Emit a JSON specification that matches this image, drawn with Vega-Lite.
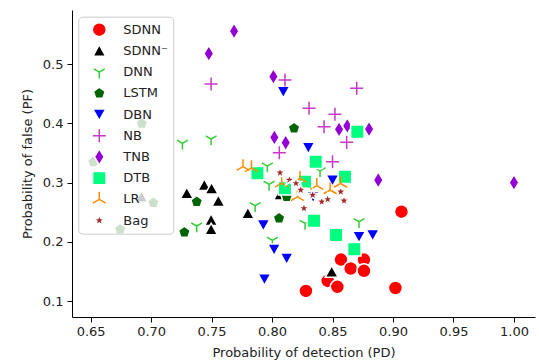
{
  "$schema": "https://vega.github.io/schema/vega-lite/v6.json",
  "autosize": {"type": "none"},
  "padding": {"left": 72, "top": 10, "right": 4, "bottom": 45},
  "width": 463,
  "height": 307,
  "data": {"values": [
    {"model": "SDNN", "pd": 0.828, "pf": 0.117},
    {"model": "SDNN", "pd": 0.846, "pf": 0.134},
    {"model": "SDNN", "pd": 0.854, "pf": 0.124},
    {"model": "SDNN", "pd": 0.857, "pf": 0.170},
    {"model": "SDNN", "pd": 0.865, "pf": 0.155},
    {"model": "SDNN", "pd": 0.876, "pf": 0.170},
    {"model": "SDNN", "pd": 0.876, "pf": 0.151},
    {"model": "SDNN", "pd": 0.907, "pf": 0.251},
    {"model": "SDNN", "pd": 0.902, "pf": 0.122},
    {"model": "SDNN⁻", "pd": 0.692, "pf": 0.276},
    {"model": "SDNN⁻", "pd": 0.7295, "pf": 0.282},
    {"model": "SDNN⁻", "pd": 0.744, "pf": 0.296},
    {"model": "SDNN⁻", "pd": 0.750, "pf": 0.290},
    {"model": "SDNN⁻", "pd": 0.7556, "pf": 0.269},
    {"model": "SDNN⁻", "pd": 0.7496, "pf": 0.237},
    {"model": "SDNN⁻", "pd": 0.7496, "pf": 0.221},
    {"model": "SDNN⁻", "pd": 0.780, "pf": 0.248},
    {"model": "SDNN⁻", "pd": 0.8066, "pf": 0.280},
    {"model": "SDNN⁻", "pd": 0.8493, "pf": 0.1495},
    {"model": "DNN", "pd": 0.7259, "pf": 0.3664},
    {"model": "DNN", "pd": 0.7496, "pf": 0.3736},
    {"model": "DNN", "pd": 0.7961, "pf": 0.328},
    {"model": "DNN", "pd": 0.7975, "pf": 0.297},
    {"model": "DNN", "pd": 0.786, "pf": 0.261},
    {"model": "DNN", "pd": 0.7377, "pf": 0.2267},
    {"model": "DNN", "pd": 0.8003, "pf": 0.2025},
    {"model": "DNN", "pd": 0.8273, "pf": 0.231},
    {"model": "DNN", "pd": 0.8719, "pf": 0.234},
    {"model": "DNN", "pd": 0.8397, "pf": 0.32},
    {"model": "LSTM", "pd": 0.6523, "pf": 0.335},
    {"model": "LSTM", "pd": 0.6923, "pf": 0.400},
    {"model": "LSTM", "pd": 0.7019, "pf": 0.266},
    {"model": "LSTM", "pd": 0.6744, "pf": 0.221},
    {"model": "LSTM", "pd": 0.7377, "pf": 0.2677},
    {"model": "LSTM", "pd": 0.7275, "pf": 0.216},
    {"model": "LSTM", "pd": 0.8058, "pf": 0.2397},
    {"model": "LSTM", "pd": 0.8121, "pf": 0.276},
    {"model": "LSTM", "pd": 0.8182, "pf": 0.3917},
    {"model": "DBN", "pd": 0.8093, "pf": 0.4535},
    {"model": "DBN", "pd": 0.830, "pf": 0.359},
    {"model": "DBN", "pd": 0.850, "pf": 0.304},
    {"model": "DBN", "pd": 0.7928, "pf": 0.2284},
    {"model": "DBN", "pd": 0.8017, "pf": 0.1873},
    {"model": "DBN", "pd": 0.8121, "pf": 0.172},
    {"model": "DBN", "pd": 0.7937, "pf": 0.137},
    {"model": "DBN", "pd": 0.8719, "pf": 0.2086},
    {"model": "DBN", "pd": 0.8832, "pf": 0.2115},
    {"model": "DBN", "pd": 0.834, "pf": 0.276},
    {"model": "NB", "pd": 0.7496, "pf": 0.4666},
    {"model": "NB", "pd": 0.8107, "pf": 0.4733},
    {"model": "NB", "pd": 0.8306, "pf": 0.4255},
    {"model": "NB", "pd": 0.852, "pf": 0.4154},
    {"model": "NB", "pd": 0.843, "pf": 0.3944},
    {"model": "NB", "pd": 0.8617, "pf": 0.368},
    {"model": "NB", "pd": 0.806, "pf": 0.3505},
    {"model": "NB", "pd": 0.850, "pf": 0.3353},
    {"model": "NB", "pd": 0.870, "pf": 0.4593},
    {"model": "TNB", "pd": 0.7686, "pf": 0.556},
    {"model": "TNB", "pd": 0.7477, "pf": 0.518},
    {"model": "TNB", "pd": 0.8011, "pf": 0.479},
    {"model": "TNB", "pd": 0.8019, "pf": 0.3765},
    {"model": "TNB", "pd": 0.8113, "pf": 0.3674},
    {"model": "TNB", "pd": 0.8554, "pf": 0.390},
    {"model": "TNB", "pd": 0.8622, "pf": 0.396},
    {"model": "TNB", "pd": 0.8802, "pf": 0.3905},
    {"model": "TNB", "pd": 0.8878, "pf": 0.3044},
    {"model": "TNB", "pd": 1.0, "pf": 0.300},
    {"model": "DTB", "pd": 0.8361, "pf": 0.3353},
    {"model": "DTB", "pd": 0.7879, "pf": 0.3157},
    {"model": "DTB", "pd": 0.8107, "pf": 0.2904},
    {"model": "DTB", "pd": 0.8273, "pf": 0.3015},
    {"model": "DTB", "pd": 0.8603, "pf": 0.310},
    {"model": "DTB", "pd": 0.8347, "pf": 0.2356},
    {"model": "DTB", "pd": 0.8529, "pf": 0.2115},
    {"model": "DTB", "pd": 0.868, "pf": 0.1873},
    {"model": "DTB", "pd": 0.8705, "pf": 0.386},
    {"model": "LR", "pd": 0.776, "pf": 0.327},
    {"model": "LR", "pd": 0.783, "pf": 0.325},
    {"model": "LR", "pd": 0.808, "pf": 0.299},
    {"model": "LR", "pd": 0.8231, "pf": 0.307},
    {"model": "LR", "pd": 0.821, "pf": 0.276},
    {"model": "LR", "pd": 0.837, "pf": 0.295},
    {"model": "LR", "pd": 0.848, "pf": 0.2875},
    {"model": "LR", "pd": 0.8566, "pf": 0.2985},
    {"model": "Bag", "pd": 0.8066, "pf": 0.3167},
    {"model": "Bag", "pd": 0.8143, "pf": 0.3044},
    {"model": "Bag", "pd": 0.8198, "pf": 0.2988},
    {"model": "Bag", "pd": 0.8237, "pf": 0.2875},
    {"model": "Bag", "pd": 0.8264, "pf": 0.2566},
    {"model": "Bag", "pd": 0.8336, "pf": 0.279},
    {"model": "Bag", "pd": 0.8411, "pf": 0.2677},
    {"model": "Bag", "pd": 0.846, "pf": 0.2718},
    {"model": "Bag", "pd": 0.8568, "pf": 0.2846},
    {"model": "Bag", "pd": 0.8595, "pf": 0.2694}
  ]},
  "mark": {"type": "point", "filled": true, "opacity": 1, "size": 196, "strokeWidth": 1.5},
  "encoding": {
    "x": {"field": "pd", "type": "quantitative",
      "scale": {"domain": [0.6346, 1.0174], "nice": false, "zero": false},
      "axis": {"title": "Probability of detection (PD)", "values": [0.65, 0.7, 0.75, 0.8, 0.85, 0.9, 0.95, 1.0], "format": ".2f", "grid": false}},
    "y": {"field": "pf", "type": "quantitative",
      "scale": {"domain": [0.073, 0.5916], "nice": false, "zero": false},
      "axis": {"title": "Probability of false (PF)", "values": [0.1, 0.2, 0.3, 0.4, 0.5], "format": ".1f", "grid": false}},
    "fill": {"field": "model", "type": "nominal", "title": null,
      "scale": {"domain": ["SDNN", "SDNN⁻", "DNN", "LSTM", "DBN", "NB", "TNB", "DTB", "LR", "Bag"],
        "range": ["#ff0000", "#000000", "transparent", "#006400", "#0000ff", "transparent", "#9400d3", "#00ff7f", "transparent", "#a52a2a"]}},
    "stroke": {"field": "model", "type": "nominal", "title": null,
      "scale": {"domain": ["SDNN", "SDNN⁻", "DNN", "LSTM", "DBN", "NB", "TNB", "DTB", "LR", "Bag"],
        "range": ["#ffffff", "#ffffff", "#32cd32", "#ffffff", "#ffffff", "#c837c8", "#ffffff", "#ffffff", "#ff8c00", "#ffffff"]}},
    "shape": {"field": "model", "type": "nominal", "title": null,
      "scale": {"domain": ["SDNN", "SDNN⁻", "DNN", "LSTM", "DBN", "NB", "TNB", "DTB", "LR", "Bag"],
        "range": [
          "circle",
          "M0,-0.88L0.92,0.78L-0.92,0.78Z",
          "M0,0L0,0.9M0,0L-0.78,-0.45M0,0L0.78,-0.45",
          "M0,-0.88L0.837,-0.272L0.517,0.712L-0.517,0.712L-0.837,-0.272Z",
          "M-0.92,-0.78L0.92,-0.78L0,0.88Z",
          "M-0.93,0L0.93,0M0,-0.93L0,0.93",
          "M0,-1.15L0.7,0L0,1.15L-0.7,0Z",
          "M-0.96,-0.96L0.96,-0.96L0.96,0.96L-0.96,0.96Z",
          "M0,0L0,-1.07M0,0L-0.93,0.535M0,0L0.93,0.535",
          "M0,-0.85L0.2,-0.275L0.808,-0.262L0.323,0.105L0.5,0.688L0,0.34L-0.5,0.688L-0.323,0.105L-0.808,-0.262L-0.2,-0.275Z"
        ]}}
  },
  "config": {
    "view": {"stroke": null},
    "font": "DejaVu Sans",
    "axis": {
      "domainColor": "#000000", "domainWidth": 1, "tickColor": "#000000", "tickWidth": 1, "tickSize": 5,
      "labelFont": "DejaVu Sans", "labelFontSize": 13, "labelColor": "#222222", "labelPadding": 3,
      "titleFont": "DejaVu Sans", "titleFontSize": 13, "titleFontWeight": "normal", "titleColor": "#222222",
      "labelFlush": false, "labelOverlap": false
    },
    "axisX": {"titlePadding": 8},
    "axisY": {"titlePadding": 8, "labelPadding": 4},
    "legend": {
      "orient": "none", "legendX": 6.3, "legendY": 6.7,
      "padding": 5, "symbolOffset": 8, "labelOffset": 16, "rowPadding": 5.2, "clipHeight": 16,
      "symbolSize": 196, "symbolStrokeWidth": 1.5, "symbolOpacity": 1,
      "labelFont": "DejaVu Sans", "labelFontSize": 13, "labelColor": "#222222",
      "strokeColor": "#cccccc", "cornerRadius": 4, "fillColor": "rgba(255,255,255,0.8)"
    }
  }
}
